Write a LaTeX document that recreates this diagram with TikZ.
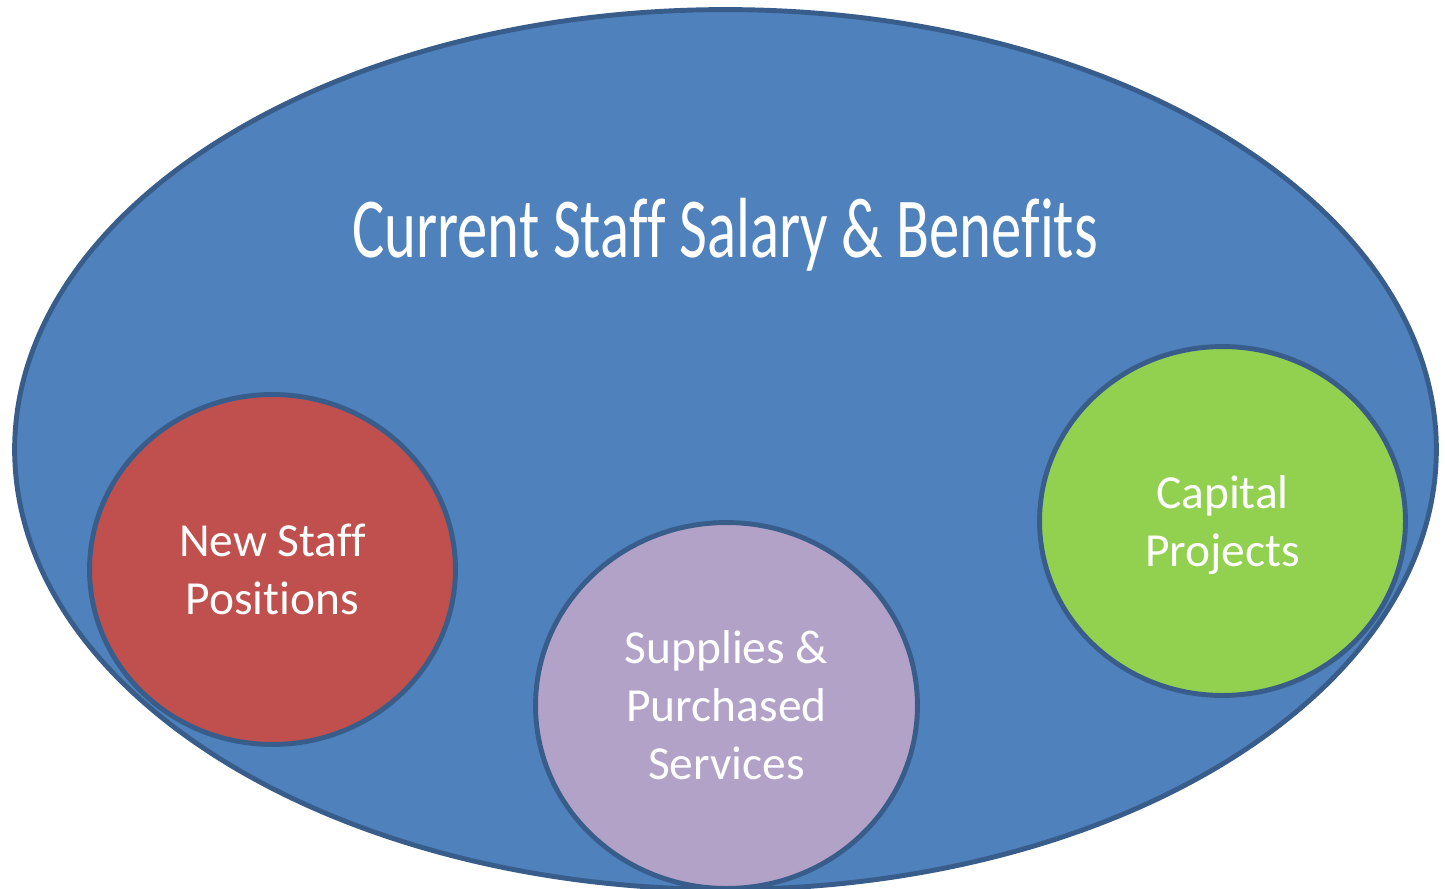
\documentclass[tikz,border=0pt]{standalone}
\usepackage{fontspec}
\setmainfont{Carlito}[RawFeature={-liga;-clig;-dlig;-calt}]
\usetikzlibrary{shapes.geometric}

\definecolor{budgetblue}{HTML}{4F81BD}
\definecolor{budgetedge}{HTML}{385D8A}
\definecolor{staffred}{HTML}{C0504D}
\definecolor{supplypurple}{HTML}{B3A2C7}
\definecolor{capitalgreen}{HTML}{92D050}

\tikzset{
  pool/.style={draw=budgetedge, line width=2.8pt, ellipse, inner sep=0pt,
    text=white, align=center, text depth=0pt, font=\fontsize{27}{33}\selectfont},
}

\begin{document}
\begin{tikzpicture}[x=0.02cm, y=-0.02cm]
\useasboundingbox (0,0) rectangle (1445,889);
% outer budget
\node[pool, fill=budgetblue, minimum width=28.44cm, minimum height=17.6cm] (salary) at (725.5,449.5) {};
\node[text=white, anchor=base] (salarytitle) at (725,257)
  {\scalebox{0.71}[1]{\fontsize{48.6}{58}\selectfont Current Staff Salary \& Benefits}};
% inner pools
\node[pool, fill=staffred, minimum width=7.32cm, minimum height=7.0cm] (newstaff) at (272.5,569.5) {New Staff\\Positions};
\node[pool, fill=supplypurple, minimum width=7.64cm, minimum height=7.32cm] (supplies) at (726.5,705.5) {Supplies \&\\Purchased\\Services};
\node[pool, fill=capitalgreen, minimum width=7.32cm, minimum height=6.98cm] (capital) at (1222.5,521) {Capital\\Projects};
\end{tikzpicture}
\end{document}
